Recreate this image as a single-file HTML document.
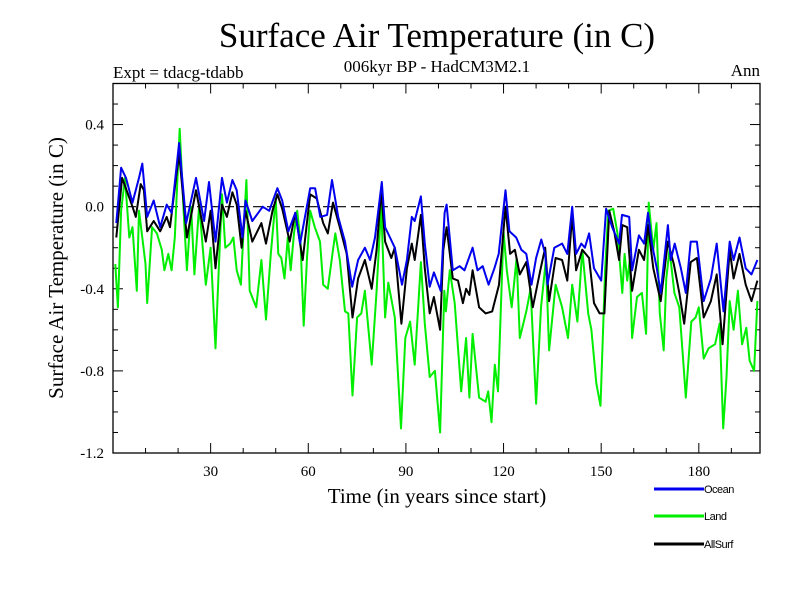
<!DOCTYPE html>
<html><head><meta charset="utf-8"><style>
html,body{margin:0;padding:0;background:#fff;}
svg{display:block;}
</style></head><body>
<svg id="chart" width="800" height="600" xmlns="http://www.w3.org/2000/svg">
<text x="437" y="47" text-anchor="middle" font-family="Liberation Serif, serif" font-size="35">Surface Air Temperature (in C)</text>
<text x="437" y="72" text-anchor="middle" font-family="Liberation Serif, serif" font-size="17">006kyr BP - HadCM3M2.1</text>
<text x="113" y="78" font-family="Liberation Serif, serif" font-size="17">Expt = tdacg-tdabb</text>
<text x="760" y="76" text-anchor="end" font-family="Liberation Serif, serif" font-size="17">Ann</text>
<text transform="translate(63,268) rotate(-90)" text-anchor="middle" font-family="Liberation Serif, serif" font-size="21">Surface Air Temperature (in C)</text>
<text x="437" y="503" text-anchor="middle" font-family="Liberation Serif, serif" font-size="21">Time (in years since start)</text>
<g id="axes"></g>
<g id="series"></g>
<g id="legend"></g>
</svg>
<script>
const xTicks = [30, 60, 90, 120, 150, 180];
const yTicks = [0.4, 0.0, -0.4, -0.8, -1.2];
const yTickLabels = ["0.4", "0.0", "-0.4", "-0.8", "-1.2"];
const seriesNames = ["Ocean", "Land", "AllSurf"];

const oceanYears = [1,2.5,4,6,8,9,10.5,12.5,14.5,16.5,18,20.3,22.5,25.5,28,29.5,31.5,33.5,35,36.7,38,39.8,40.7,42.8,46,48,50.5,52,53.9,56,57.5,60.6,62.1,63.7,65.8,67.3,69.2,71.3,73.5,75.3,77.4,79,80.5,82.6,83.6,85.1,86.6,88.8,90.3,91.8,92.7,94.6,95.8,97.3,98.6,100.7,101.9,102.5,104.4,106.5,108,110.5,112,113.6,115.4,117.2,118.5,120.6,121.8,123.9,125.5,127,128.6,130,131.6,132.8,133.5,135.6,138,139.6,141.1,142.3,143.9,145,146.3,147.8,150,151.5,153.4,155.5,156.4,158.6,159.5,161.6,163.2,164.4,165.6,167.1,168.3,170.5,171.4,172.6,174.5,176,177.5,179.4,181.5,183.7,185.5,187.6,189.5,190.7,192.5,194.4,196.2,198];
const oceanValues = [-0.08,0.19,0.14,0.02,0.14,0.21,-0.05,0.03,-0.1,0.01,-0.03,0.31,-0.08,0.14,-0.07,0.12,-0.17,0.14,0.02,0.13,0.08,-0.15,0.03,-0.07,0,-0.02,0.09,0.03,-0.12,-0.03,-0.18,0.09,0.09,-0.05,-0.04,0.13,-0.05,-0.17,-0.39,-0.26,-0.2,-0.26,-0.15,0.12,-0.1,-0.15,-0.2,-0.38,-0.26,-0.05,-0.07,0.05,-0.18,-0.39,-0.32,-0.41,-0.03,0.01,-0.31,-0.29,-0.31,-0.2,-0.31,-0.29,-0.38,-0.3,-0.23,0.08,-0.12,-0.15,-0.21,-0.23,-0.38,-0.25,-0.16,-0.23,-0.38,-0.2,-0.18,-0.23,0,-0.23,-0.18,-0.2,-0.13,-0.3,-0.36,-0.01,-0.1,-0.18,-0.04,-0.05,-0.31,-0.14,-0.18,-0.03,-0.18,-0.3,-0.42,-0.09,-0.26,-0.18,-0.3,-0.42,-0.17,-0.17,-0.46,-0.35,-0.18,-0.51,-0.17,-0.26,-0.15,-0.3,-0.33,-0.26];

const allYears = [1,2.8,6,7,8.5,9.5,10.5,12.5,14.5,16.5,17.5,20.3,22.7,25.5,28.5,30,31.5,33.5,35,36.7,38,39.5,40.7,42.8,45.6,47,49,50.5,52,54.3,56,58.3,60.6,62.6,64.6,66,67.6,69.7,71.8,73.6,75.3,77.4,79.5,81,82.4,83.6,85.5,86.6,88.6,90.3,91.8,92.7,94.6,95.8,97.3,98.6,100.5,101.5,102.5,104.4,106,107.5,108.5,109.5,110.5,112.5,114.5,116.5,118.6,120.6,122,123.5,125,127,129,131.3,132.8,134,136,138,139.6,141.1,142.3,144.2,146.3,147.8,149.5,151,152.5,154,155.5,156.5,158,159.5,161.6,163.2,164.4,166,168.3,170.5,172.3,174,175.5,177.5,179.4,181.5,183.7,185.5,187.3,189.5,190.7,192.5,194.4,196.2,198];
const allValues = [-0.15,0.14,0,-0.05,0.11,0.08,-0.12,-0.07,-0.12,-0.05,-0.1,0.26,-0.15,0.08,-0.17,-0.02,-0.3,0.01,-0.05,0.07,0.01,-0.2,-0.02,-0.17,-0.08,-0.18,-0.02,0.06,-0.01,-0.17,-0.03,-0.26,0.06,0.04,-0.08,-0.13,0.02,-0.1,-0.23,-0.54,-0.35,-0.26,-0.4,-0.21,0.08,-0.17,-0.25,-0.2,-0.57,-0.3,-0.18,-0.26,-0.04,-0.3,-0.52,-0.44,-0.6,-0.21,-0.1,-0.35,-0.36,-0.47,-0.4,-0.43,-0.31,-0.49,-0.52,-0.51,-0.38,0,-0.23,-0.21,-0.33,-0.27,-0.49,-0.31,-0.2,-0.46,-0.25,-0.26,-0.36,-0.04,-0.31,-0.21,-0.25,-0.47,-0.52,-0.52,-0.02,-0.12,-0.26,-0.09,-0.1,-0.41,-0.21,-0.26,-0.09,-0.3,-0.46,-0.17,-0.28,-0.42,-0.57,-0.27,-0.25,-0.54,-0.46,-0.33,-0.67,-0.21,-0.35,-0.23,-0.38,-0.46,-0.36];

const landYears = [0.7,1.5,2.5,3.7,5,6,7.3,8,9,10,10.5,12,13.5,15,15.8,17,18,19,20.5,21.7,22.7,24,25,26.5,28.5,30,31.5,32.5,33.5,34.5,36,37,38,39.3,40,41,42,44,45.6,47,48.5,50,50.8,51.7,52.7,53.7,54.6,55.6,56.6,57.6,58.6,59.6,60.6,62,63.6,64.6,66,67.6,68.3,69.7,71.3,72.3,73.6,75,76.3,77.4,79.5,81,82.4,83.6,84.6,86.6,88.5,89.8,91.3,92.7,94.6,95.8,97.3,98.9,100.5,101.8,102.3,103.5,105,107,108.5,109.5,110.5,112.5,114.5,115.3,116.3,117.3,118.3,120,121,122.5,124,125,127,128.3,130,131.5,133,134,136,138,139.8,141.1,142.7,144.2,146,147,148.5,149.8,151.2,152.2,153.7,155,156.5,157.2,158,158.8,159.5,161,162.5,163.8,164.6,166,167,168,169.2,170,171,172.5,174,175.3,176,177.7,179,180,181.5,183,185,186.4,187.5,188.5,189.5,190.7,192,193.3,194.6,195.6,197,198];
const landValues = [-0.28,-0.49,-0.02,0.14,-0.15,-0.1,-0.41,-0.02,-0.15,-0.28,-0.47,-0.1,-0.13,-0.21,-0.31,-0.23,-0.31,-0.15,0.38,-0.02,-0.31,0,-0.33,0.01,-0.38,-0.2,-0.69,-0.3,0.06,-0.2,-0.18,-0.15,-0.31,-0.38,-0.15,0.13,-0.41,-0.49,-0.26,-0.55,-0.23,0.04,-0.23,-0.25,-0.35,-0.15,-0.31,-0.13,-0.02,-0.17,-0.58,-0.25,-0.02,-0.1,-0.17,-0.38,-0.4,-0.21,-0.13,-0.26,-0.51,-0.52,-0.92,-0.54,-0.52,-0.41,-0.77,-0.41,0.01,-0.54,-0.37,-0.54,-1.08,-0.64,-0.56,-0.77,-0.27,-0.57,-0.83,-0.8,-1.1,-0.41,-0.51,-0.31,-0.47,-0.9,-0.64,-0.93,-0.62,-0.93,-0.95,-0.9,-1.05,-0.77,-0.9,-0.12,-0.31,-0.49,-0.25,-0.64,-0.51,-0.4,-0.96,-0.49,-0.26,-0.7,-0.38,-0.49,-0.64,-0.38,-0.56,-0.21,-0.52,-0.6,-0.86,-0.97,-0.31,-0.02,-0.01,-0.13,-0.42,-0.23,-0.36,-0.26,-0.64,-0.44,-0.42,-0.62,0.02,-0.21,-0.08,-0.52,-0.7,-0.35,-0.21,-0.42,-0.49,-0.77,-0.93,-0.56,-0.54,-0.49,-0.74,-0.69,-0.67,-0.57,-1.08,-0.83,-0.46,-0.6,-0.41,-0.67,-0.59,-0.75,-0.8,-0.46];

const NS = "http://www.w3.org/2000/svg";
const X0 = 113, X1 = 760, Y0 = 83.5, Y1 = 453;
const xMin = 0, xMax = 198.8, yMin = -1.2, yMax = 0.6;
function xs(v){ return X0 + (v - xMin) / (xMax - xMin) * (X1 - X0); }
function ys(v){ return Y1 - (v - yMin) / (yMax - yMin) * (Y1 - Y0); }
function mk(tag, attrs, parent){ const e = document.createElementNS(NS, tag); for (const k in attrs) e.setAttribute(k, attrs[k]); parent.appendChild(e); return e; }

const axes = document.getElementById('axes');
const frame = mk('rect', {x: X0, y: Y0, width: X1 - X0, height: Y1 - Y0, fill: 'none', stroke: '#000', 'stroke-width': 1.3}, axes);


const zero = mk('line', {x1: X0, x2: X1, y1: ys(0), y2: ys(0), stroke: '#000', 'stroke-width': 1.2, 'stroke-dasharray': '9,5'}, axes);



for (let t = 10; t < xMax; t += 10) {
  const major = t % 30 === 0;
  const len = major ? 10 : 5;
  const tb = mk('line', {x1: xs(t), x2: xs(t), y1: Y1, y2: Y1 - len, stroke: '#000', 'stroke-width': 1}, axes);
  
  
  const tt = mk('line', {x1: xs(t), x2: xs(t), y1: Y0, y2: Y0 + len, stroke: '#000', 'stroke-width': 1}, axes);
  
  
}
xTicks.forEach(t => {
  const l = mk('text', {x: xs(t), y: Y1 + 23, 'text-anchor': 'middle', 'font-family': 'Liberation Serif, serif', 'font-size': 15}, axes);
  l.textContent = String(t);
  
  
});
for (let k = -11; k <= 5; k++) {
  const v = k / 10;
  const major = (k % 4 === 0);
  const len = major ? 10 : 5;
  const tl = mk('line', {x1: X0, x2: X0 + len, y1: ys(v), y2: ys(v), stroke: '#000', 'stroke-width': 1}, axes);
  
  
  const tr = mk('line', {x1: X1, x2: X1 - len, y1: ys(v), y2: ys(v), stroke: '#000', 'stroke-width': 1}, axes);
  
  
}
yTicks.forEach((v, i) => {
  const l = mk('text', {x: X0 - 9, y: ys(v) + 5, 'text-anchor': 'end', 'font-family': 'Liberation Serif, serif', 'font-size': 15}, axes);
  l.textContent = yTickLabels[i];
  
  
});

const series = document.getElementById('series');
function drawLine(years, vals, color, name){
  const d = years.map((y, i) => (i ? 'L' : 'M') + xs(y).toFixed(1) + ',' + ys(vals[i]).toFixed(1)).join(' ');
  const p = mk('path', {d: d, fill: 'none', stroke: color, 'stroke-width': 2, 'stroke-linejoin': 'round'}, series);
  
  
}
drawLine(landYears, landValues, '#00ee00', 'land-line');
drawLine(allYears, allValues, '#000000', 'allsurf-line');
drawLine(oceanYears, oceanValues, '#0000ee', 'ocean-line');

const legend = document.getElementById('legend');
const legColors = ['#0000ee', '#00ee00', '#000000'];
const legY = [489, 516, 544];
seriesNames.forEach((n, i) => {
  const g = mk('g', {}, legend);
  
  
  mk('line', {x1: 654, x2: 704, y1: legY[i], y2: legY[i], stroke: legColors[i], 'stroke-width': 3}, g);
  const t = mk('text', {x: 704, y: legY[i] + 4, 'font-family': 'Liberation Sans, sans-serif', 'font-size': 11, 'letter-spacing': '-0.5'}, g);
  t.textContent = n;
});
</script>
</body></html>
